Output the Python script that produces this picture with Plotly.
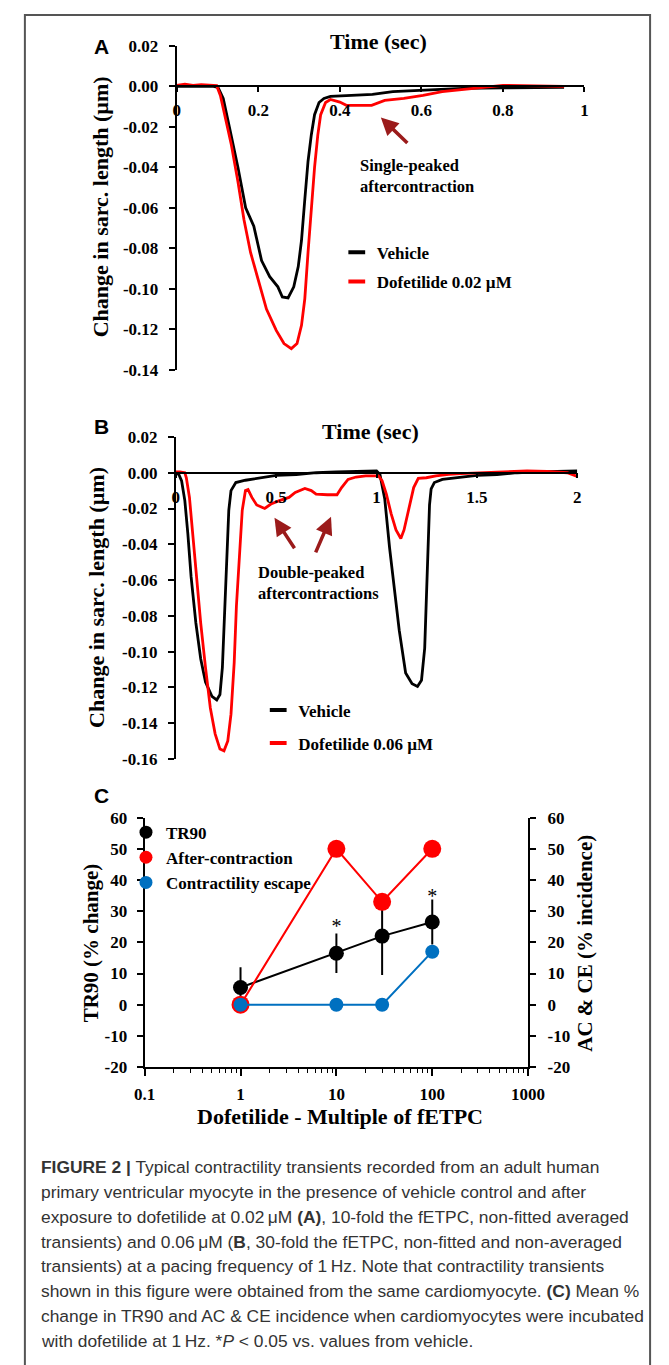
import plotly.graph_objects as go

W, H = 669, 1365
def fx(p): return p / W
def fy(p): return 1 - p / H

# ---------------- data ----------------
# Panel A (Dofetilide 0.02 uM)
a_veh_t = [0.0, 0.03, 0.06, 0.09, 0.101, 0.114, 0.130, 0.150, 0.169, 0.189, 0.208, 0.228, 0.248, 0.259,
           0.273, 0.287, 0.298, 0.306, 0.314, 0.322, 0.330, 0.338, 0.349, 0.361, 0.377, 0.42, 0.48, 0.53,
           0.60, 0.65, 0.70, 0.80, 0.95]
a_veh = [0.0, 0.0, 0.0, 0.0, -0.0005, -0.006, -0.021, -0.040, -0.060, -0.069, -0.086, -0.094, -0.099, -0.104,
         -0.1045, -0.099, -0.089, -0.076, -0.056, -0.037, -0.024, -0.014, -0.008, -0.006, -0.005, -0.0045,
         -0.004, -0.0026, -0.002, -0.0013, -0.001, -0.0008, -0.0005]
a_dof_t = [0.0, 0.02, 0.04, 0.06, 0.08, 0.098, 0.107, 0.122, 0.134, 0.150, 0.165, 0.181, 0.201, 0.220, 0.244,
           0.263, 0.281, 0.295, 0.306, 0.314, 0.322, 0.330, 0.338, 0.346, 0.353, 0.365, 0.377, 0.40, 0.416,
           0.478, 0.51, 0.557, 0.604, 0.651, 0.70, 0.72, 0.80, 0.95]
a_dof = [0.0005, 0.001, 0.0005, 0.0008, 0.0006, 0.0003, -0.0045, -0.0175, -0.029, -0.047, -0.066, -0.082,
         -0.097, -0.110, -0.1205, -0.127, -0.1295, -0.127, -0.118, -0.105, -0.082, -0.060, -0.040, -0.024,
         -0.014, -0.008, -0.0065, -0.0078, -0.0094, -0.0094, -0.007, -0.006, -0.0045, -0.0026, -0.0016,
         -0.001, 0.0005, 0.0]

# Panel B (Dofetilide 0.06 uM)
b_veh_t = [0.0, 0.015, 0.029, 0.045, 0.060, 0.076, 0.100, 0.124, 0.148, 0.180, 0.204, 0.220, 0.232, 0.244,
           0.252, 0.264, 0.275, 0.299, 0.347, 0.427, 0.50, 0.60, 0.70, 0.80, 0.90, 1.0, 1.017, 1.041, 1.065,
           1.089, 1.113, 1.145, 1.177, 1.204, 1.224, 1.240, 1.248, 1.256, 1.264, 1.272, 1.288, 1.328, 1.423,
           1.50, 1.60, 1.70, 1.80, 1.90, 2.0]
b_veh = [0.0, -0.001, -0.0046, -0.0156, -0.034, -0.058, -0.084, -0.104, -0.117, -0.125, -0.127, -0.124,
         -0.109, -0.0745, -0.047, -0.021, -0.010, -0.0055, -0.0042, -0.003, -0.0015, -0.001, 0.0, 0.0005,
         0.0008, 0.001, -0.001, -0.0147, -0.042, -0.066, -0.088, -0.112, -0.118, -0.1195, -0.116, -0.098,
         -0.070, -0.040, -0.018, -0.009, -0.0055, -0.0037, -0.0024, -0.0015, -0.001, 0.0, 0.0005, 0.0008, 0.001]
b_dof_t = [0.0, 0.02, 0.045, 0.0525, 0.068, 0.084, 0.100, 0.124, 0.148, 0.172, 0.196, 0.220, 0.240, 0.259,
           0.275, 0.291, 0.302, 0.315, 0.331, 0.347, 0.360, 0.379, 0.403, 0.443, 0.474, 0.516, 0.564, 0.595,
           0.643, 0.675, 0.699, 0.755, 0.803, 0.826, 0.858, 0.898, 0.946, 1.01, 1.028, 1.049, 1.073, 1.097,
           1.121, 1.137, 1.161, 1.185, 1.208, 1.248, 1.296, 1.36, 1.42, 1.5, 1.6, 1.75, 1.85, 1.95, 1.99, 2.0]
b_dof = [0.0005, 0.0005, 0.0, -0.0028, -0.0138, -0.034, -0.056, -0.084, -0.109, -0.1315, -0.146, -0.1545,
         -0.1555, -0.150, -0.135, -0.106, -0.0745, -0.047, -0.021, -0.010, -0.0094, -0.0138, -0.018, -0.020,
         -0.0175, -0.0156, -0.0138, -0.011, -0.0088, -0.010, -0.012, -0.0123, -0.0123, -0.0083, -0.0037,
         -0.0024, -0.0018, -0.0018, -0.0046, -0.012, -0.023, -0.032, -0.0368, -0.032, -0.0193, -0.0083,
         -0.0031, -0.0028, -0.0018, -0.0009, -0.0005, 0.0, 0.0003, 0.001, 0.0008, 0.0, -0.0015, -0.002]

# Panel C
c_multiple = [1, 10, 30, 100]
c_tr90 = [5.5, 16.5, 22.0, 26.5]
c_tr90_err = [6.5, 6.3, 12.5, 7.2]
c_aftercontraction = [0, 50, 33, 50]
c_contractility_escape = [0, 0, 0, 17]
c_sig_x = [10, 100]
c_sig_y = [24.6, 34.2]

# tick labels
a_xtick_vals = [0, 0.2, 0.4, 0.6, 0.8, 1]
a_xtick_text = ["0", "0.2", "0.4", "0.6", "0.8", "1"]
a_ytick_vals = [0.02, 0.0, -0.02, -0.04, -0.06, -0.08, -0.10, -0.12, -0.14]
a_ytick_text = ["0.02", "0.00", "-0.02", "-0.04", "-0.06", "-0.08", "-0.10", "-0.12", "-0.14"]
b_xtick_vals = [0, 0.5, 1, 1.5, 2]
b_xtick_text = ["0", "0.5", "1", "1.5", "2"]
b_ytick_vals = [0.02, 0.0, -0.02, -0.04, -0.06, -0.08, -0.10, -0.12, -0.14, -0.16]
b_ytick_text = ["0.02", "0.00", "-0.02", "-0.04", "-0.06", "-0.08", "-0.10", "-0.12", "-0.14", "-0.16"]
c_xtick_vals = [0.1, 1, 10, 100, 1000]
c_xtick_text = ["0.1", "1", "10", "100", "1000"]
c_ytick_vals = [60, 50, 40, 30, 20, 10, 0, -10, -20]
c_ytick_text = ["60", "50", "40", "30", "20", "10", "0", "-10", "-20"]

caption_lines = [
    "<b>FIGURE 2 |</b> Typical contractility transients recorded from an adult human",
    "primary ventricular myocyte in the presence of vehicle control and after",
    "exposure to dofetilide at 0.02\u2009\u03bcM <b>(A)</b>, 10-fold the fETPC, non-fitted averaged",
    "transients) and 0.06\u2009\u03bcM (<b>B</b>, 30-fold the fETPC, non-fitted and non-averaged",
    "transients) at a pacing frequency of 1\u2009Hz. Note that contractility transients",
    "shown in this figure were obtained from the same cardiomyocyte. <b>(C)</b> Mean %",
    "change in TR90 and AC &amp; CE incidence when cardiomyocytes were incubated",
    "with dofetilide at 1\u2009Hz. *<i>P</i> &lt; 0.05 vs. values from vehicle.",
]

# ---------------- styling ----------------
SERIF = "Liberation Serif, Times New Roman, serif"
SANS = "Liberation Sans, Arial, sans-serif"
CAP = "Liberation Sans, Arial, sans-serif"
RED = "#FF0000"
BLUE = "#0070C0"
ARROW = "#9B1B1B"

fig = go.Figure()

# Panel A
fig.add_trace(go.Scatter(x=a_veh_t, y=a_veh, mode="lines", line=dict(color="black", width=2.8),
                         xaxis="x", yaxis="y", showlegend=False))
fig.add_trace(go.Scatter(x=a_dof_t, y=a_dof, mode="lines", line=dict(color=RED, width=2.8),
                         xaxis="x", yaxis="y", showlegend=False))
fig.add_trace(go.Scatter(x=[None], y=[None], mode="markers", name="Vehicle", legend="legend",
                         legendgroup="av", marker=dict(symbol="line-ew", size=12, line=dict(width=4, color="black")),
                         xaxis="x", yaxis="y"))
fig.add_trace(go.Scatter(x=[None], y=[None], mode="markers", name="Dofetilide 0.02 \u00b5M", legend="legend",
                         legendgroup="ad", marker=dict(symbol="line-ew", size=12, line=dict(width=4, color=RED)),
                         xaxis="x", yaxis="y"))

# Panel B
fig.add_trace(go.Scatter(x=b_veh_t, y=b_veh, mode="lines", line=dict(color="black", width=2.8),
                         xaxis="x2", yaxis="y2", showlegend=False))
fig.add_trace(go.Scatter(x=b_dof_t, y=b_dof, mode="lines", line=dict(color=RED, width=2.8),
                         xaxis="x2", yaxis="y2", showlegend=False))
fig.add_trace(go.Scatter(x=[None], y=[None], mode="markers", name="Vehicle", legend="legend2",
                         legendgroup="bv", marker=dict(symbol="line-ew", size=12, line=dict(width=4, color="black")),
                         xaxis="x2", yaxis="y2"))
fig.add_trace(go.Scatter(x=[None], y=[None], mode="markers", name="Dofetilide 0.06 \u00b5M", legend="legend2",
                         legendgroup="bd", marker=dict(symbol="line-ew", size=12, line=dict(width=4, color=RED)),
                         xaxis="x2", yaxis="y2"))

# Panel C
fig.add_trace(go.Scatter(x=c_multiple, y=c_tr90, mode="lines+markers", showlegend=False,
                         line=dict(color="black", width=2), marker=dict(color="black", size=15),
                         error_y=dict(type="data", array=c_tr90_err, color="black", thickness=2, width=0),
                         xaxis="x3", yaxis="y3"))
fig.add_trace(go.Scatter(x=c_multiple, y=c_aftercontraction, mode="lines+markers", showlegend=False,
                         line=dict(color=RED, width=2), marker=dict(color=RED, size=18),
                         xaxis="x3", yaxis="y4"))
fig.add_trace(go.Scatter(x=c_multiple, y=c_contractility_escape, mode="lines+markers", showlegend=False,
                         line=dict(color=BLUE, width=2), marker=dict(color=BLUE, size=14),
                         xaxis="x3", yaxis="y4"))
fig.add_trace(go.Scatter(x=c_sig_x, y=c_sig_y, mode="text", text=["*", "*"], showlegend=False,
                         textfont=dict(family=SERIF, size=20, color="black"), xaxis="x3", yaxis="y3"))
for nm, col, grp in [("TR90", "black", "c1"), ("After-contraction", RED, "c2"),
                     ("Contractility escape", BLUE, "c3")]:
    fig.add_trace(go.Scatter(x=[None], y=[None], mode="markers", name=nm, legend="legend3",
                             legendgroup=grp, marker=dict(color=col, size=13), xaxis="x3", yaxis="y3"))

# ---------------- axes ----------------
tickfont = dict(family=SERIF, size=17, color="black", weight="bold")
def lin_axis(**kw):
    d = dict(showline=True, linecolor="black", linewidth=2, ticks="outside", ticklen=6, tickwidth=1.5,
             tickcolor="black", showgrid=False, zeroline=False, tickfont=tickfont, tickmode="array")
    d.update(kw)
    return d

a_dom_y = [fy(366), fy(37.3)]
a_rng_y = [-0.14, 0.02]
a_zero = a_dom_y[0] + (0 - a_rng_y[0]) / (a_rng_y[1] - a_rng_y[0]) * (a_dom_y[1] - a_dom_y[0])
b_dom_y = [fy(760.5), fy(434)]
b_rng_y = [-0.16, 0.02]
b_zero = b_dom_y[0] + (0 - b_rng_y[0]) / (b_rng_y[1] - b_rng_y[0]) * (b_dom_y[1] - b_dom_y[0])

fig.update_layout(
    xaxis=lin_axis(domain=[fx(173), fx(598.5)], range=[0, 1], anchor="free", position=a_zero,
                   tickvals=a_xtick_vals, ticktext=a_xtick_text, linewidth=1.5, ticklen=5,
                   ticklabelstandoff=4),
    yaxis=lin_axis(domain=a_dom_y, range=a_rng_y, anchor="x", tickvals=a_ytick_vals,
                   ticktext=a_ytick_text, ticklabelstandoff=7),
    xaxis2=lin_axis(domain=[fx(172), fx(591)], range=[0, 2], anchor="free", position=b_zero,
                    tickvals=b_xtick_vals, ticktext=b_xtick_text, linewidth=1.5, ticklen=5,
                    ticklabelstandoff=4),
    yaxis2=lin_axis(domain=b_dom_y, range=b_rng_y, anchor="x2", tickvals=b_ytick_vals,
                    ticktext=b_ytick_text, ticklabelstandoff=7),
    xaxis3=lin_axis(domain=[fx(139.5), fx(539.7)], type="log", range=[-1, 3], anchor="y3",
                    tickvals=c_xtick_vals, ticktext=c_xtick_text, ticklen=7, ticklabelstandoff=4,
                    minor=dict(ticks="outside", ticklen=4, tickcolor="black", tickwidth=1.2, dtick="D1",
                               showgrid=False)),
    yaxis3=lin_axis(domain=[fy(1073), fy(820)], range=[-20, 60], anchor="x3", tickvals=c_ytick_vals,
                    ticktext=c_ytick_text, ticklabelstandoff=6),
    yaxis4=lin_axis(domain=[fy(1073), fy(820)], range=[-20, 60], anchor="x3", overlaying="y3",
                    side="right", tickvals=c_ytick_vals, ticktext=c_ytick_text, ticklabelstandoff=8),
)

legfont = dict(family=SERIF, size=17, color="black", weight="bold")
fig.update_layout(
    legend=dict(x=fx(340), y=fy(229), xanchor="left", yanchor="top", font=legfont,
                bgcolor="rgba(0,0,0,0)", tracegroupgap=4, itemwidth=30),
    legend2=dict(x=fx(258), y=fy(693), xanchor="left", yanchor="top", font=legfont,
                 bgcolor="rgba(0,0,0,0)", tracegroupgap=8, itemwidth=30),
    legend3=dict(x=fx(120), y=fy(817), xanchor="left", yanchor="top", font=legfont,
                 bgcolor="rgba(0,0,0,0)", tracegroupgap=0, itemwidth=30),
)

# ---------------- annotations ----------------
ann = []
def text(x, y, t, size, family=SERIF, bold=True, angle=0, xanchor="center", color="black", align="center"):
    ann.append(dict(x=fx(x), y=fy(y), xref="paper", yref="paper", text=t, showarrow=False,
                    textangle=angle, xanchor=xanchor, yanchor="middle", align=align,
                    font=dict(family=family, size=size, color=color, weight="bold" if bold else "normal")))

text(94, 38, "A", 21, SANS)
text(94, 423, "B", 21, SANS)
text(94, 798, "C", 21, SANS)
text(384, 33, "Time (sec)", 22)
text(375, 428, "Time (sec)", 22)
text(93, 201, "Change in sarc. length (\u00b5m)", 22, angle=-90)
text(89, 597, "Change in sarc. length (\u00b5m)", 22, angle=-90)
text(83, 947, "TR90 (% change)", 21, angle=-90)
text(599, 947, "AC &amp; CE (% incidence)", 21, angle=-90)
text(343, 1123, "Dofetilide - Multiple of fETPC", 22)
text(362.6, 169.5, "Single-peaked<br>aftercontraction", 16.5, xanchor="left", align="left")
text(256, 582.5, "Double-peaked<br>aftercontractions", 16.5, xanchor="left", align="left")

cap_y0 = 1174
for i, line in enumerate(caption_lines):
    text(29, cap_y0 + i * 25.3, line, 17.4, CAP, bold=False, xanchor="left", color="#333333", align="left")

def arrow(tip, tail):
    ann.append(dict(x=fx(tip[0]), y=fy(tip[1]), xref="paper", yref="paper", text="", showarrow=True,
                    ax=tail[0] - tip[0], ay=tail[1] - tip[1], arrowhead=2, arrowsize=1, arrowwidth=3.5,
                    arrowcolor=ARROW, standoff=0))
arrow((386, 110), (414, 137))
arrow((275, 516), (296, 548))
arrow((334, 515), (318, 552))

fig.update_layout(
    annotations=ann,
    shapes=[dict(type="rect", xref="paper", yref="paper", x0=fx(14.5), x1=fx(667), y0=fy(1380), y1=fy(6),
                 line=dict(color="#555555", width=2), fillcolor="rgba(0,0,0,0)")],
    width=W, height=H, autosize=False,
    margin=dict(l=0, r=0, t=0, b=0),
    paper_bgcolor="white", plot_bgcolor="white",
)

fig.write_html("out.html")
